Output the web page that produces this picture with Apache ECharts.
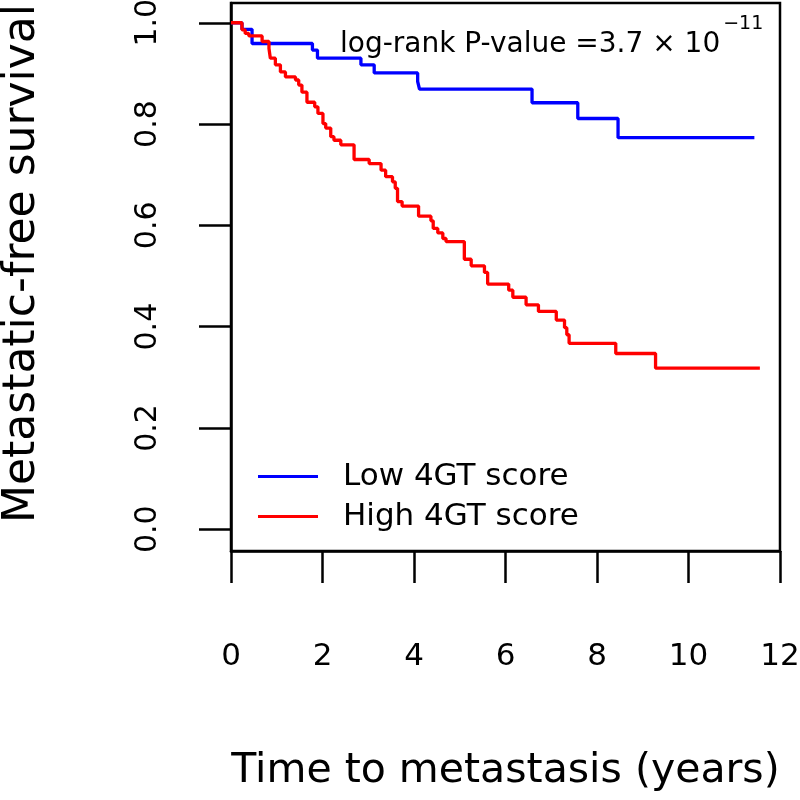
<!DOCTYPE html>
<html>
<head>
<meta charset="utf-8">
<script src="https://cdn.jsdelivr.net/npm/echarts@6/dist/echarts.min.js"></script>
<style>html,body{margin:0;padding:0;background:#fff;}#chart{width:800px;height:800px;}</style>
</head>
<body>
<div id="chart"></div>
<script>
// Kaplan-Meier step data (time in years, survival probability)
const lowTimes = [0, 0.24, 0.46, 1.78, 1.89, 2.84, 3.13, 4.08, 4.12, 6.58, 7.58, 8.46, 11.44];
const lowSurv  = [1.0, 0.987, 0.959, 0.946, 0.930, 0.917, 0.901, 0.884, 0.869, 0.842, 0.811, 0.773, 0.773];

const highTimes = [0, 0.24, 0.31, 0.39, 0.68, 0.83, 0.86, 0.97, 1.08, 1.19, 1.41, 1.48, 1.55, 1.66, 1.83, 1.90, 2.01, 2.07, 2.18, 2.25, 2.40, 2.69, 3.02, 3.28, 3.38, 3.53, 3.59, 3.64, 3.74, 4.10, 4.37, 4.42, 4.52, 4.63, 4.70, 5.10, 5.25, 5.54, 5.61, 6.07, 6.16, 6.45, 6.72, 7.11, 7.29, 7.34, 7.39, 8.41, 9.28, 11.56];
const highSurv  = [1.0, 0.986, 0.979, 0.974, 0.963, 0.949, 0.930, 0.917, 0.903, 0.893, 0.887, 0.877, 0.863, 0.843, 0.834, 0.821, 0.801, 0.792, 0.775, 0.768, 0.759, 0.730, 0.722, 0.709, 0.696, 0.686, 0.673, 0.647, 0.638, 0.618, 0.609, 0.594, 0.585, 0.574, 0.568, 0.533, 0.520, 0.507, 0.484, 0.472, 0.458, 0.443, 0.430, 0.413, 0.398, 0.384, 0.367, 0.347, 0.318, 0.318];

const seriesNames = ['Low 4GT score', 'High 4GT score'];
const yTicks = [0, 0.2, 0.4, 0.6, 0.8, 1.0];
const xTicks = [0, 2, 4, 6, 8, 10, 12];
const pText = 'log-rank P-value =3.7 \u00d7 10';
const pExp = '\u221211';
const xTitle = 'Time to metastasis (years)';
const yTitle = 'Metastatic-free survival';

const FONT = 'DejaVu Sans';
const chart = echarts.init(document.getElementById('chart'), null, {renderer: 'canvas'});

function pairs(t, s) { return t.map((v, i) => [v, s[i]]); }

chart.setOption({
  animation: false,
  backgroundColor: '#ffffff',
  title: {
    text: '{a|' + pText + '}{b|' + pExp + '}',
    left: 340, top: 15, padding: 0,
    textStyle: {
      fontWeight: 'normal',
      rich: {
        a: {fontSize: 28, fontFamily: FONT, fontWeight: 'normal', color: '#000', lineHeight: 44, verticalAlign: 'bottom'},
        b: {fontSize: 19, fontFamily: FONT, fontWeight: 'normal', color: '#000', lineHeight: 26, verticalAlign: 'top', padding: [0, 0, 0, 3]}
      }
    }
  },
  legend: {
    orient: 'vertical', left: 258, top: 461, padding: 0,
    itemWidth: 60, itemHeight: 3, itemGap: 9, icon: 'rect',
    textStyle: {fontSize: 31, fontFamily: FONT, color: '#000', padding: [0, 0, 0, 20], lineHeight: 31},
    data: seriesNames
  },
  grid: {
    left: 231, right: 20, top: 3, bottom: 249,
    containLabel: false, outerBoundsMode: 'none',
    show: true, borderColor: '#000', borderWidth: 2.5, backgroundColor: 'transparent'
  },
  xAxis: {
    type: 'value', min: xTicks[0], max: xTicks[xTicks.length - 1], interval: 2,
    name: xTitle, nameLocation: 'middle', nameGap: 200,
    nameTextStyle: {fontSize: 41, fontFamily: FONT, color: '#000'},
    axisLine: {show: true, onZero: false, lineStyle: {color: '#000', width: 2.5}},
    axisTick: {show: true, length: 32, lineStyle: {color: '#000', width: 2.5}},
    axisLabel: {fontSize: 31, fontFamily: FONT, color: '#000', margin: 90},
    splitLine: {show: false}
  },
  yAxis: {
    type: 'value', min: -0.043, max: 1.039,
    name: yTitle, nameLocation: 'middle', nameGap: 186, nameRotate: 90,
    nameTextStyle: {fontSize: 44, fontFamily: FONT, color: '#000', padding: [0, 0, 0, 27]},
    axisLine: {show: true, onZero: false, lineStyle: {color: '#000', width: 2.5}},
    axisTick: {show: true, length: 32, customValues: yTicks, lineStyle: {color: '#000', width: 2.5}},
    axisLabel: {
      show: true, customValues: yTicks, rotate: 90, margin: 68,
      fontSize: 30, fontFamily: FONT, color: '#000',
      formatter: v => Number(v).toFixed(1)
    },
    splitLine: {show: false}
  },
  series: [
    {
      name: seriesNames[0], type: 'line', step: 'end', showSymbol: false,
      color: '#0000ff', lineStyle: {color: '#0000ff', width: 3.3},
      data: pairs(lowTimes, lowSurv), z: 2
    },
    {
      name: seriesNames[1], type: 'line', step: 'end', showSymbol: false,
      color: '#ff0000', lineStyle: {color: '#ff0000', width: 3.3},
      data: pairs(highTimes, highSurv), z: 3
    }
  ]
});
</script>
</body>
</html>
